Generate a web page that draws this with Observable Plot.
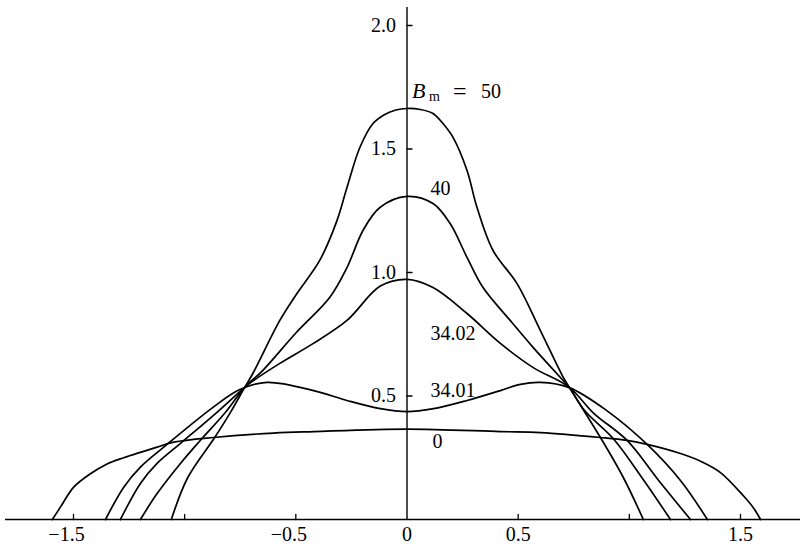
<!DOCTYPE html>
<html><head><meta charset="utf-8">
<script src="https://cdn.jsdelivr.net/npm/d3@7"></script>
<script src="https://cdn.jsdelivr.net/npm/@observablehq/plot@0.6"></script>
<style>body{margin:0;background:#fff}</style>
</head><body><div id="chart"></div>
<script>
// Curve B_m = 0
const b0X = [-1.595,-1.559,-1.499,-1.424,-1.349,-1.274,-1.199,-1.124,-1.049,-0.87,-0.6,-0.42,0,0.42,0.6,0.87,0.99,1.08,1.23,1.33,1.41,1.514,1.56,1.59];
const b0Y = [0,0.05,0.131,0.185,0.225,0.25,0.272,0.293,0.313,0.332,0.35,0.356,0.366,0.356,0.352,0.332,0.32,0.304,0.267,0.232,0.19,0.095,0.045,0];
// Curve B_m = 34.01
const b3401X = [-1.356,-1.274,-1.199,-1.09,-0.874,-0.752,-0.63,-0.42,-0.27,-0.12,0,0.12,0.27,0.42,0.51,0.6,0.73,0.9,1.08,1.23,1.351];
const b3401Y = [0,0.131,0.212,0.296,0.453,0.526,0.555,0.522,0.482,0.449,0.437,0.449,0.482,0.522,0.547,0.555,0.534,0.44,0.304,0.158,0];
// Curve B_m = 34.02
const b3402X = [-1.289,-1.199,-1.124,-1.02,-0.86,-0.73,-0.694,-0.572,-0.423,-0.27,-0.12,0,0.117,0.27,0.42,0.568,0.73,0.84,0.99,1.13,1.275];
const b3402Y = [0,0.146,0.227,0.307,0.43,0.535,0.56,0.632,0.712,0.806,0.945,0.972,0.939,0.834,0.713,0.615,0.535,0.43,0.32,0.16,0];
// Curve B_m = 40
const b40X = [-1.199,-1.124,-1.019,-0.93,-0.82,-0.73,-0.649,-0.5,-0.347,-0.27,-0.198,-0.122,0,0.117,0.194,0.27,0.342,0.464,0.568,0.69,0.73,0.8,0.93,1.06,1.185];
const b40Y = [0,0.105,0.227,0.32,0.43,0.535,0.603,0.755,0.9,1.02,1.17,1.263,1.308,1.279,1.198,1.061,0.939,0.806,0.696,0.575,0.535,0.44,0.325,0.165,0];
// Curve B_m = 50
const b50X = [-1.06,-0.986,-0.865,-0.79,-0.73,-0.694,-0.572,-0.495,-0.392,-0.315,-0.27,-0.212,-0.153,-0.1,-0.05,0,0.06,0.117,0.16,0.207,0.27,0.315,0.387,0.495,0.6,0.703,0.73,0.87,0.973,1.063];
const b50Y = [0,0.17,0.332,0.44,0.535,0.59,0.806,0.915,1.05,1.21,1.344,1.506,1.603,1.64,1.658,1.664,1.66,1.644,1.605,1.547,1.413,1.263,1.089,0.955,0.765,0.575,0.535,0.332,0.17,0];

const seriesNames = ["0","34.01","34.02","40","50"];
const seriesX = [b0X,b3401X,b3402X,b40X,b50X];
const seriesY = [b0Y,b3401Y,b3402Y,b40Y,b50Y];

const xTicks = [-1.5,-1,-0.5,0.5,1,1.5];
const xNegLabelValues = [-1.5,-0.5];
const xNegLabels = ["\u22121.5","\u22120.5"];
const xPosLabelValues = [0,0.5,1.5];
const xPosLabels = ["0","0.5","1.5"];
const yTicks = [0.5,1,1.5,2];
const yLabels = ["0.5","1.0","1.5","2.0"];

const curveLabels = ["40","34.02","34.01","0"];
const curveLabelX = [0.106,0.106,0.106,0.115];
const curveLabelY = [1.34,0.753,0.522,0.316];
const topLabelY = 1.733;

const rows = seriesNames.flatMap((b,i)=>seriesX[i].map((x,j)=>({B:b,x,y:seriesY[i][j]})));
const tickShape = {draw(context,l){context.moveTo(0,0);context.lineTo(0,-l);}};
const font = "Liberation Serif, Times New Roman, serif";

const chart = Plot.plot({
  width: 800, height: 546,
  marginTop: 7, marginLeft: 5, marginRight: 0, marginBottom: 27,
  x: {domain:[-1.5,1.5], range:[73,740], axis:null},
  y: {domain:[0,2], range:[519,25], axis:null},
  style: {fontFamily: font, fontSize: "20px", background: "white", color: "black"},
  marks: [
    Plot.ruleY([0], {strokeWidth:1.6}),
    Plot.ruleX([0], {strokeWidth:1.4}),
    Plot.vector(xTicks, {x:d=>d, y:0, length:5, rotate:0, anchor:"start", shape:tickShape, strokeWidth:1.3}),
    Plot.vector(yTicks, {x:0, y:d=>d, length:5, rotate:90, anchor:"start", shape:tickShape, strokeWidth:1.3}),
    Plot.text(xNegLabelValues, {x:d=>d, y:0, text:(d,i)=>xNegLabels[i], dy:15, dx:-7, fontSize:20}),
    Plot.text(xPosLabelValues, {x:d=>d, y:0, text:(d,i)=>xPosLabels[i], dy:15, fontSize:20}),
    Plot.text(yTicks, {x:0, y:d=>d, text:(d,i)=>yLabels[i], textAnchor:"end", dx:-11, fontSize:20}),
    Plot.line(rows, {x:"x", y:"y", z:"B", curve:"catmull-rom", stroke:"black", strokeWidth:1.7}),
    Plot.text(curveLabels, {x:(d,i)=>curveLabelX[i], y:(d,i)=>curveLabelY[i], text:d=>d, textAnchor:"start", fontSize:20}),
    Plot.text(["B"], {x:0, y:topLabelY, text:d=>d, textAnchor:"start", dx:5, fontStyle:"italic", fontSize:22}),
    Plot.text(["m"], {x:0, y:topLabelY, text:d=>d, textAnchor:"start", dx:22, dy:5, fontSize:14}),
    Plot.text(["="], {x:0, y:topLabelY, text:d=>d, textAnchor:"start", dx:46, fontSize:24}),
    Plot.text(["50"], {x:0, y:topLabelY, text:d=>d, textAnchor:"start", dx:74, fontSize:20})
  ]
});
document.getElementById("chart").appendChild(chart);
</script>
</body></html>
